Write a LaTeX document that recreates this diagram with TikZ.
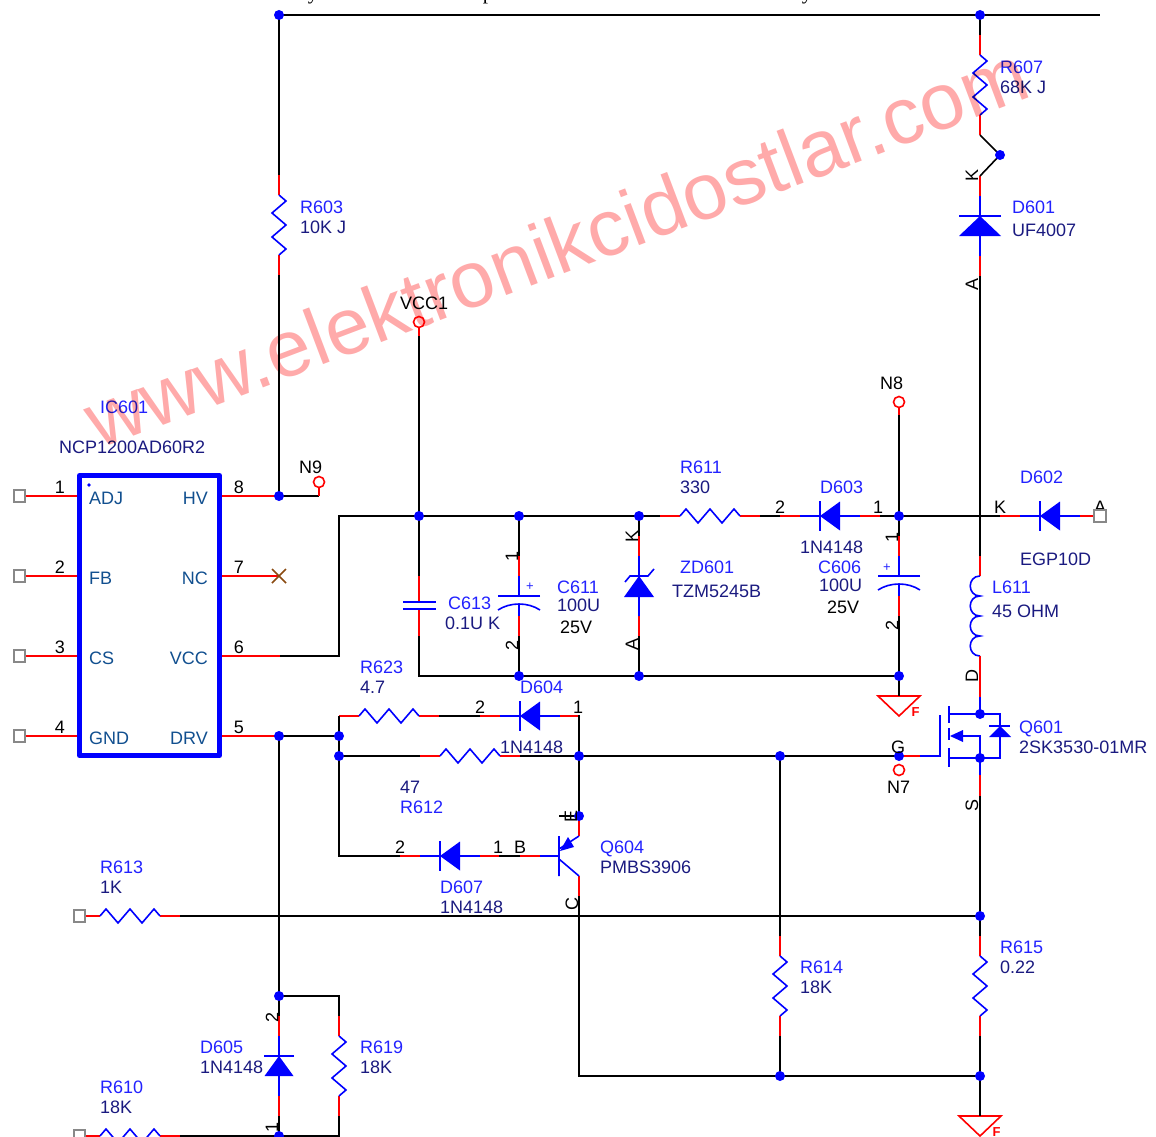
\documentclass[tikz,border=0pt]{standalone}
\usepackage{fontspec}
\usetikzlibrary{calc}
\setmainfont{Liberation Sans}
\newfontfamily\serifx{Liberation Serif}
\definecolor{wmc}{HTML}{FFAAAA}
\definecolor{desc}{HTML}{2222FF}
\definecolor{valc}{HTML}{1A1A80}
\definecolor{pinc}{HTML}{114F8F}
\definecolor{gryc}{HTML}{888888}
\definecolor{nc}{HTML}{8A4A10}
\tikzset{
  wire/.style={draw=black,line width=1.6pt},
  bus/.style={draw=black,line width=2.2pt},
  lead/.style={draw=red,line width=1.6pt},
  body/.style={draw=blue,line width=1.6pt,line join=miter},
  jdot/.style={circle,fill=blue,inner sep=0pt,minimum size=10pt},
  tp/.style={circle,draw=red,fill=white,line width=1.6pt,inner sep=0pt,minimum size=11pt},
  sq/.style={rectangle,draw=gryc,fill=white,line width=1.6pt,inner sep=0pt,minimum size=11.5pt},
  lab/.style={anchor=base west,inner sep=0pt,yshift=-6.5pt,font=\fontsize{18}{18}\selectfont},
  des/.style={lab,text=desc},
  val/.style={lab,text=valc},
  blk/.style={lab,text=black},
  pinl/.style={lab,text=pinc},
  pinr/.style={lab,text=pinc,anchor=base east},
  num/.style={anchor=center,inner sep=0pt,text=black,font=\fontsize{18}{18}\selectfont},
  rotl/.style={num,rotate=90},
  pics/res/.style={code={
    \coordinate (-a) at (0,0); \coordinate (-b) at (100,0);
    \draw[lead] (0,0)--(20,0) (80,0)--(100,0);
    \draw[body] (20,0)--(26,-7)--(38,7)--(50,-7)--(62,7)--(74,-7)--(80,0);
  }},
  pics/dio/.style={code={
    \coordinate (-a) at (0,0); \coordinate (-b) at (100,0);
    \draw[lead] (0,0)--(20,0) (80,0)--(100,0);
    \draw[body] (20,0)--(80,0) (40,-15)--(40,15);
    \fill[blue] (40,0)--(60,-14.5)--(60,14.5)--cycle;
  }},
  pics/diowide/.style={code={
    \coordinate (-a) at (0,0); \coordinate (-b) at (100,0);
    \draw[lead] (0,0)--(20,0) (80,0)--(100,0);
    \draw[body] (20,0)--(80,0) (40,-21)--(40,21);
    \fill[blue] (40,0)--(60,-21)--(60,21)--cycle;
  }},
  pics/zen/.style={code={
    \coordinate (-a) at (0,0); \coordinate (-b) at (100,0);
    \draw[lead] (0,0)--(20,0) (80,0)--(100,0);
    \draw[body] (20,0)--(80,0) (33,-15)--(40,-9)--(40,9)--(46,14);
    \fill[blue] (40,0)--(61,-15)--(61,15)--cycle;
  }},
  pics/pcap/.style={code={
    \coordinate (-a) at (0,0); \coordinate (-b) at (80,0);
    \draw[lead] (0,0)--(20,0) (60,0)--(80,0);
    \draw[body] (20,0)--(40,0) (48,0)--(60,0) (40,-21)--(40,21);
    \draw[body] (54,-21) .. controls (46,-9) and (46,9) .. (54,21);
  }},
  pics/ncap/.style={code={
    \coordinate (-a) at (0,0); \coordinate (-b) at (60,0);
    \draw[lead] (0,0)--(26,0) (33,0)--(60,0);
    \draw[body] (26,-16.5)--(26,16.5) (33,-16.5)--(33,16.5);
  }},
  pics/gnd/.style={code={
    \coordinate (-a) at (0,0);
    \draw[draw=red,line width=1.6pt,line join=miter] (-21,0)--(21,0)--(0,20)--cycle;
    \node[text=red,inner sep=0pt,font=\bfseries\fontsize{13}{13}\selectfont] at (16.5,16) {F};
  }},
}
\begin{document}
\begin{tikzpicture}[x=1pt,y=-1pt]
\useasboundingbox (0,0) rectangle (1156,1137);

% junctions and free ends
\coordinate (nTL) at (279,15); \coordinate (nTR) at (980,15); \coordinate (nTE) at (1100,15);
\coordinate (nHV) at (279,496); \coordinate (nN9) at (319,496); \coordinate (nN9s) at (319,488);
\coordinate (nV6) at (280,656); \coordinate (nB0) at (339,656); \coordinate (nB1) at (339,516);
\coordinate (nBv) at (419,516); \coordinate (nBc) at (519,516); \coordinate (nBz) at (639,516);
\coordinate (nBd) at (899,516); \coordinate (nBl) at (980,516);
\coordinate (nG1) at (419,676); \coordinate (nG2) at (519,676); \coordinate (nG3) at (639,676); \coordinate (nG4) at (899,676);
\coordinate (nDR) at (279,736); \coordinate (nD2) at (339,736); \coordinate (nD3) at (339,756); \coordinate (nD4) at (339,716); \coordinate (nD5) at (339,856);
\coordinate (nK1) at (579,716); \coordinate (nK2) at (579,756); \coordinate (nE) at (579,816); \coordinate (nEs) at (559,816);
\coordinate (nGt) at (780,756); \coordinate (nGG) at (899,756);
\coordinate (nS) at (980,916); \coordinate (nC) at (579,1076); \coordinate (nR) at (780,1076); \coordinate (nF) at (980,1076);
\coordinate (n19) at (279,996); \coordinate (n19r) at (339,996); \coordinate (n10) at (279,1136); \coordinate (n10r) at (339,1136);
\coordinate (nSw) at (1000,155);

% components
\pic[rotate=-90] (R603) at (279,175) {res};
\pic[rotate=-90] (R607) at (980,35) {res};
\pic[rotate=-90] (D601) at (980,176) {diowide};
\pic (R611) at (660,516) {res};
\pic (D603) at (780,516) {dio};
\pic (D602) at (1000,516) {dio};
\pic[rotate=-90] (C613) at (419,576) {ncap};
\pic[rotate=-90] (C611) at (519,556) {pcap};
\pic[rotate=-90] (ZD601) at (639,536) {zen};
\pic[rotate=-90] (C606) at (899,536) {pcap};
\pic (R623) at (339,716) {res};
\pic (R612) at (420,756) {res};
\pic (D604) at (480,716) {dio};
\pic (D607) at (400,856) {dio};
\pic (R613) at (80,916) {res};
\pic (R610) at (80,1136) {res};
\pic[rotate=-90] (R614) at (780,936) {res};
\pic[rotate=-90] (R615) at (980,936) {res};
\pic[rotate=-90] (R619) at (339,1016) {res};
\pic[rotate=-90] (D605) at (279,1016) {dio};
\pic (GND1) at (899,696) {gnd};
\pic (GND2) at (980,1116) {gnd};

% IC
\node[draw=blue,line width=5pt,line join=round,outer sep=0pt,inner sep=0pt,minimum width=140pt,minimum height=280pt] (IC) at (149.5,615.5) {};
\fill[blue] (89,485) circle (1.8);
\node[pinl] (pADJ) at (89,498) {ADJ}; \node[pinl] (pFB) at (89,578) {FB};
\node[pinl] (pCS) at (89,658) {CS}; \node[pinl] (pGND) at (89,738) {GND};
\node[pinr] (pHV) at (208,498) {HV}; \node[pinr] (pNC) at (208,578) {NC};
\node[pinr] (pVCC) at (208,658) {VCC}; \node[pinr] (pDRV) at (208,738) {DRV};
\coordinate (pL1) at (77,496); \coordinate (pL2) at (77,576); \coordinate (pL3) at (77,656); \coordinate (pL4) at (77,736);
\coordinate (pR8) at (222,496); \coordinate (pR7) at (222,576); \coordinate (pR6) at (222,656); \coordinate (pR5) at (222,736);
\coordinate (nNC) at (279,576);

% labels behind the end squares
\node[num] (tA) at (1100,507) {A};

% squares and test points
\node[sq] (S1) at (19.5,496) {}; \node[sq] (S2) at (19.5,576) {}; \node[sq] (S3) at (19.5,656) {}; \node[sq] (S4) at (19.5,736) {};
\node[tp] (N9p) at (319,482) {}; \node[tp] (N8p) at (899,402) {}; \node[tp] (VCp) at (419,322) {}; \node[tp] (N7p) at (899,770) {};
\coordinate (N8r) at (899,415); \coordinate (VCr) at (419,336);

% leads of the IC
\draw[lead] (S1)--(pL1); \draw[lead] (S2)--(pL2); \draw[lead] (S3)--(pL3); \draw[lead] (S4)--(pL4);
\draw[lead] (pR8)--(nHV); \draw[lead] (pR7)--(nNC); \draw[lead] (pR6)--(nV6); \draw[lead] (pR5)--(nDR);
\draw[line width=1.6pt,draw=nc] ([shift={(-7,-7)}]nNC)--([shift={(7,7)}]nNC) ([shift={(-7,7)}]nNC)--([shift={(7,-7)}]nNC);

% wires
\draw[bus] (nTL)--(nTR)--(nTE);
\draw[wire] (nTL)--(R603-a); \draw[wire] (R603-b)--(nHV)--(nN9);
\draw[lead] (N9p)--(nN9s)--(nN9);
\draw[wire] (nTR)--(R607-a);
\draw[wire] (R607-b)--(nSw)--(D601-a);
\draw[wire] (nV6)--(nB0)--(nB1)--(nBv)--(nBc)--(nBz)--(R611-a);
\draw[wire] (R611-b)--(D603-a); \draw[wire] (D603-b)--(nBd)--(nBl)--(D602-a);
\draw[wire] (D601-b)--(nBl);
\coordinate (L1) at (980,556); \coordinate (L2) at (980,576); \coordinate (L3) at (980,656); \coordinate (L4) at (980,697); \coordinate (Qd) at (980,714);
\draw[wire] (nBl)--(L1); \draw[lead] (L1)--(L2);
\draw[body] (L2) .. controls (967,576) and (967,596) .. (980,596)
  .. controls (967,596) and (967,616) .. (980,616)
  .. controls (967,616) and (967,636) .. (980,636)
  .. controls (967,636) and (967,656) .. (L3);
\draw[lead] (L3)--(L4); \draw[body] (L4)--(Qd);
\draw[lead] (VCp)--(VCr); \draw[wire] (VCr)--(nBv);
\draw[wire] (nBv)--(C613-a); \draw[wire] (C613-b)--(nG1)--(nG2)--(nG3)--(nG4);
\draw[wire] (nBc)--(C611-a); \draw[wire] (C611-b)--(nG2);
\draw[wire] (nBz)--(ZD601-a); \draw[wire] (ZD601-b)--(nG3);
\draw[lead] (N8p)--(N8r); \draw[wire] (N8r)--(nBd);
\draw[wire] (nBd)--(C606-a); \draw[wire] (C606-b)--(nG4)--(GND1-a);
\draw[wire] (nDR)--(nD2); \draw[wire] (nD4)--(nD5)--(D607-a);
\draw[wire] (R623-b)--(D604-a);
\draw[lead] (nD4)--(R623-a);
\draw[wire] (nD3)--(R612-a); \draw[wire] (R612-b)--(nK2)--(nGt)--(nGG);
\draw[wire] (D604-b)--(nK1)--(nK2)--(nE);
\draw[wire] (nEs)--(nE);
\draw[wire] (nDR)--(n19)--(D605-a); \draw[wire] (D605-b)--(n10);
\draw[wire] (n19)--(n19r)--(R619-a); \draw[wire] (R619-b)--(n10r)--(n10)--(R610-b);
\draw[wire] (R613-b)--(nS);
\draw[wire] (nGt)--(R614-a); \draw[wire] (R614-b)--(nR);
\draw[wire] (nS)--(R615-a); \draw[wire] (R615-b)--(nF)--(GND2-a);
\coordinate (Cb) at (579,896); \coordinate (Cc) at (579,876);
\draw[wire] (Cb)--(nC)--(nR)--(nF);
% Q604
\coordinate (Qe) at (579,836); \coordinate (Qb1) at (499,856); \coordinate (Qb2) at (520,856); \coordinate (Qb3) at (540,856); \coordinate (Qb) at (559,856);
\draw[lead] (nE)--(Qe); \draw[lead] (Cc)--(Cb);
\draw[wire] (Qb1)--(Qb2); \draw[lead] (Qb2)--(Qb3);
\draw[body] (Qb3)--(Qb) (559,836)--(559,876) (Qe)--(559,849) (559,859)--(Cc);
\fill[blue] (560,851)--(568,837)--(574,847)--cycle;
% Q601
\coordinate (Qg1) at (920,756); \coordinate (Qg2) at (940,756); \coordinate (Qs) at (980,758); \coordinate (Qs2) at (980,775); \coordinate (Qs3) at (980,796);
\draw[lead] (nGG)--(Qg1);
\draw[body] (Qg1)--(Qg2)--(940,715) (949,706)--(949,723) (949,728)--(949,740) (949,748)--(949,767);
\draw[body] (949,714)--(Qd)--(1000,714)--(1000,758)--(Qs)--(949,758);
\draw[body] (963,736)--(980,736)--(Qs)--(Qs2);
\fill[blue] (950,736)--(963,730)--(963,742)--cycle;
\draw[body] (989,726)--(1010,726);
\fill[blue] (1000,726)--(1011,737)--(989,737)--cycle;
\draw[lead] (Qs2)--(Qs3); \draw[wire] (Qs3)--(nS);

% dots
\foreach \c in {nTL,nTR,nHV,nBv,nBc,nBz,nBd,nG2,nG3,nG4,nDR,nD2,nD3,nK2,nE,nGt,nGG,nS,nR,nF,n19,n10,nSw,Qd,Qs}
  \node[jdot] (dot\c) at (\c) {};

% pin numbers
\node[num] (t1) at (60,487) {1}; \node[num] (t2) at (60,567) {2}; \node[num] (t3) at (60,647) {3}; \node[num] (t4) at (60,727) {4};
\node[num] (t8) at (239,487) {8}; \node[num] (t7) at (239,567) {7}; \node[num] (t6) at (239,647) {6}; \node[num] (t5) at (239,727) {5};
\node[num] (t9) at (780,507) {2}; \node[num] (t10) at (878,507) {1}; \node[num] (tK) at (1000,507) {K};
\node[num] (t11) at (480,707) {2}; \node[num] (t12) at (578,707) {1};
\node[num] (t13) at (400,847) {2}; \node[num] (t14) at (498,847) {1}; \node[num] (tB) at (520,847) {B};
\node[num] (tG) at (898,747) {G};
\node[rotl] (rK1) at (972,175) {K}; \node[rotl] (rA1) at (972,284) {A};
\node[rotl] (r11) at (512,556) {1}; \node[rotl] (r12) at (512,645) {2};
\node[rotl] (rK2) at (632,536) {K}; \node[rotl] (rA2) at (632,644) {A};
\node[rotl] (r21) at (892,537) {1}; \node[rotl] (r22) at (892,625) {2};
\node[rotl] (rD) at (972,676) {D}; \node[rotl] (rS) at (972,805) {S};
\node[rotl] (rE) at (571,816) {E}; \node[rotl] (rC) at (572,904) {C};
\node[rotl] (r31) at (272,1017) {2}; \node[rotl] (r32) at (272,1127) {1};
\node[inner sep=0pt,text=desc,font=\fontsize{13}{13}\selectfont] (p1) at (530,587) {+};
\node[inner sep=0pt,text=desc,font=\fontsize{13}{13}\selectfont] (p2) at (887,568) {+};

% test point names
\node[blk] (N9) at (299,467) {N9}; \node[blk] (N8) at (880,383) {N8}; \node[blk] (N7) at (887,787) {N7}; \node[blk] (VCC1) at (400,303) {VCC1};

% designators and values
\node[des] (lIC) at (100,407) {IC601}; \node[val] (vIC) at (59,447) {NCP1200AD60R2};
\node[des] (l603) at (300,207) {R603}; \node[val] (v603) at (300,227) {10K J};
\node[des] (l607) at (1000,67) {R607}; \node[val] (v607) at (1000,87) {68K J};
\node[des] (l601) at (1012,207) {D601}; \node[val] (v601) at (1012,230) {UF4007};
\node[des] (l611) at (680,467) {R611}; \node[val] (v611) at (680,487) {330};
\node[des] (l603d) at (820,487) {D603}; \node[val] (v603d) at (800,547) {1N4148};
\node[des] (l606) at (818,567) {C606}; \node[val] (v606) at (819,585) {100U}; \node[blk] (w606) at (827,607) {25V};
\node[des] (l602) at (1020,477) {D602}; \node[val] (v602) at (1020,559) {EGP10D};
\node[des] (lL) at (992,587) {L611}; \node[val] (vL) at (992,611) {45 OHM};
\node[des] (lZ) at (680,567) {ZD601}; \node[val] (vZ) at (672,591) {TZM5245B};
\node[des] (l613) at (448,603) {C613}; \node[val] (v613) at (445,623) {0.1U K};
\node[des] (l611c) at (557,587) {C611}; \node[val] (v611c) at (557,605) {100U}; \node[blk] (w611) at (560,627) {25V};
\node[des] (l623) at (360,667) {R623}; \node[val] (v623) at (360,687) {4.7};
\node[des] (l604) at (520,687) {D604}; \node[val] (v604) at (500,747) {1N4148};
\node[val] (v612) at (400,787) {47}; \node[des] (l612) at (400,807) {R612};
\node[des] (l607d) at (440,887) {D607}; \node[val] (v607d) at (440,907) {1N4148};
\node[des] (lQ4) at (600,847) {Q604}; \node[val] (vQ4) at (600,867) {PMBS3906};
\node[des] (lQ1) at (1019,727) {Q601}; \node[val] (vQ1) at (1019,747) {2SK3530-01MR};
\node[des] (l613r) at (100,867) {R613}; \node[val] (v613r) at (100,887) {1K};
\node[des] (l614) at (800,967) {R614}; \node[val] (v614) at (800,987) {18K};
\node[des] (l615) at (1000,947) {R615}; \node[val] (v615) at (1000,967) {0.22};
\node[des] (l619) at (360,1047) {R619}; \node[val] (v619) at (360,1067) {18K};
\node[des] (l605) at (200,1047) {D605}; \node[val] (v605) at (200,1067) {1N4148};
\node[des] (l610) at (100,1087) {R610}; \node[val] (v610) at (100,1107) {18K};

% squares of the free ends, above their leads
\node[sq] (S5) at (1100,516) {}; \node[sq] (S6) at (79.5,916) {}; \node[sq] (S7) at (79.5,1136) {};

% cut-off letters on the top edge
\begin{scope}
\clip (0,0) rectangle (1156,1137);
\node[anchor=base,inner sep=0pt,font=\serifx\fontsize{21}{21}\selectfont] (cy1) at (313,0) {y};
\node[anchor=base,inner sep=0pt,font=\serifx\fontsize{21}{21}\selectfont] (cp) at (488,0) {p};
\node[anchor=base,inner sep=0pt,font=\serifx\fontsize{21}{21}\selectfont] (cy2) at (807,0) {y};
\end{scope}

% watermark, laid over the drawing
\begin{scope}[blend mode=multiply]
\node[anchor=base west,rotate=20.7,text=wmc,inner sep=0pt,font=\fontsize{80}{80}\selectfont] (wm) at (98,450) {www.elektronikcidostlar.com};
\end{scope}
\end{tikzpicture}
\end{document}
